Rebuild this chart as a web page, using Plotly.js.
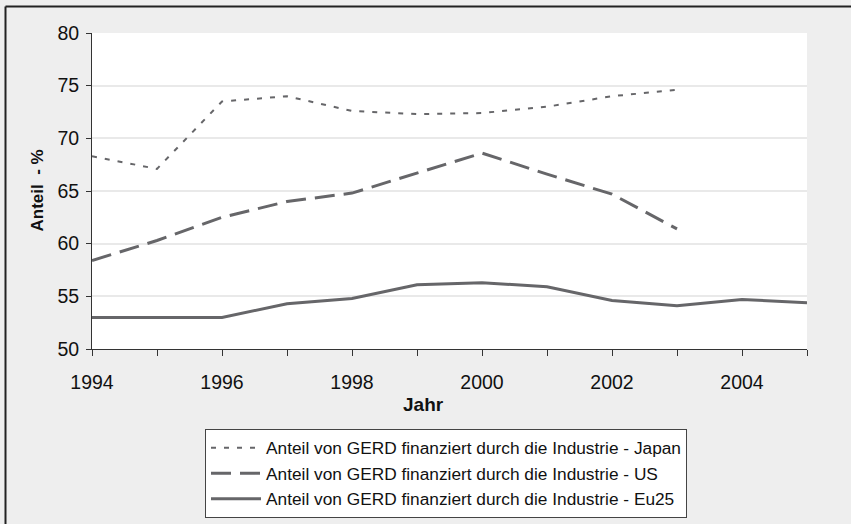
<!DOCTYPE html>
<html>
<head>
<meta charset="utf-8">
<script src="https://cdn.plot.ly/plotly-3.0.1.min.js"></script>
<style>html,body{margin:0;padding:0;background:#eeeeee;}#chart{width:851px;height:524px;}</style>
</head>
<body>
<div id="chart"></div>
<script>
const yearsJapan = [1994, 1995, 1996, 1997, 1998, 1999, 2000, 2001, 2002, 2003];
const valuesJapan = [68.3, 67.1, 73.5, 74.0, 72.6, 72.3, 72.4, 73.0, 74.0, 74.6];
const yearsUS = [1994, 1995, 1996, 1997, 1998, 1999, 2000, 2001, 2002, 2003];
const valuesUS = [58.4, 60.3, 62.5, 64.0, 64.8, 66.7, 68.6, 66.6, 64.7, 61.4];
const yearsEU = [1994, 1995, 1996, 1997, 1998, 1999, 2000, 2001, 2002, 2003, 2004, 2005];
const valuesEU = [53.0, 53.0, 53.0, 54.3, 54.8, 56.1, 56.3, 55.9, 54.6, 54.1, 54.7, 54.4];
const xTickVals = [1994, 1995, 1996, 1997, 1998, 1999, 2000, 2001, 2002, 2003, 2004, 2005];
const xTickText = ['1994', '', '1996', '', '1998', '', '2000', '', '2002', '', '2004', ''];
const yTickVals = [50, 55, 60, 65, 70, 75, 80];
const seriesNames = [
  'Anteil von GERD finanziert durch die Industrie - Japan',
  'Anteil von GERD finanziert durch die Industrie - US',
  'Anteil von GERD finanziert durch die Industrie - Eu25'
];
const xTitle = 'Jahr';
const yTitle = 'Anteil  - %';

const lineColor = '#666669';
const traces = [
  {x: yearsJapan, y: valuesJapan, name: seriesNames[0], mode: 'lines', legendgroup: 'a',
   line: {color: lineColor, width: 2, dash: '5px,8px'}},
  {x: yearsUS, y: valuesUS, name: seriesNames[1], mode: 'lines', legendgroup: 'b',
   line: {color: lineColor, width: 3, dash: '20px,9px'}},
  {x: yearsEU, y: valuesEU, name: seriesNames[2], mode: 'lines', legendgroup: 'c',
   line: {color: lineColor, width: 3}}
];

const W = 851, H = 524, L = 92, R = 44, T = 33, B = 175;
const pw = W - L - R, ph = H - T - B;
const px = v => (v - L) / pw;
const py = v => (H - B - v) / ph;

const layout = {
  width: W, height: H,
  margin: {l: L, r: R, t: T, b: B, pad: 0, autoexpand: false},
  paper_bgcolor: '#eeeeee',
  plot_bgcolor: '#ffffff',
  font: {family: 'Liberation Sans, Arial, sans-serif', color: '#111111'},
  showlegend: true,
  xaxis: {
    range: [1994, 2005], tickmode: 'array', tickvals: xTickVals, ticktext: xTickText,
    ticks: 'outside', ticklen: 6, tickcolor: '#333', tickwidth: 1,
    showline: true, linecolor: '#333', linewidth: 1, showgrid: false, zeroline: false,
    tickfont: {size: 19.5, color: '#111'}, ticklabelstandoff: 10, automargin: false
  },
  yaxis: {
    range: [50, 80], tickmode: 'array', tickvals: yTickVals,
    ticks: 'outside', ticklen: 5, tickcolor: '#333', tickwidth: 1,
    showline: true, linecolor: '#333', linewidth: 1,
    showgrid: true, gridcolor: '#e9e9e9', gridwidth: 2, zeroline: false,
    tickfont: {size: 19.5, color: '#111'}, ticklabelstandoff: 3, automargin: false
  },
  annotations: [
    {text: '<b>' + xTitle + '</b>', xref: 'paper', yref: 'paper', x: px(423), y: py(404),
     xanchor: 'center', yanchor: 'middle', showarrow: false, font: {size: 19, color: '#111'}},
    {text: '<b>' + yTitle + '</b>', xref: 'paper', yref: 'paper', x: px(36.5), y: py(190),
     xanchor: 'center', yanchor: 'middle', textangle: -90, showarrow: false, font: {size: 17, color: '#111'}}
  ],
  legend: {
    x: px(205), y: py(429), xanchor: 'left', yanchor: 'top',
    bgcolor: '#ffffff', bordercolor: '#444', borderwidth: 1,
    font: {size: 17.3, color: '#111'}, itemwidth: 50, tracegroupgap: 8,
    traceorder: 'normal'
  },
  shapes: [
    {type: 'line', xref: 'paper', yref: 'paper', x0: px(5.5), x1: px(5.5), y0: py(530), y1: py(6.5),
     line: {color: '#222', width: 2}},
    {type: 'line', xref: 'paper', yref: 'paper', x0: px(5.5), x1: px(860), y0: py(6.5), y1: py(6.5),
     line: {color: '#222', width: 2}}
  ]
};

Plotly.newPlot('chart', traces, layout, {displayModeBar: false, staticPlot: true});
</script>
</body>
</html>
